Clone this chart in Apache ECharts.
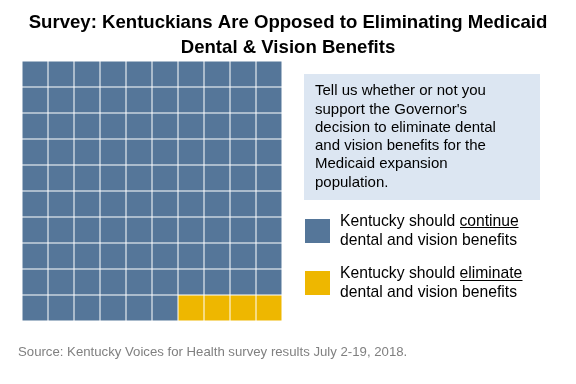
<!DOCTYPE html>
<html><head><meta charset="utf-8">
<script src="https://cdn.jsdelivr.net/npm/echarts@6/dist/echarts.min.js"></script>
<style>html,body{margin:0;padding:0;background:#fff}#c{width:576px;height:384px}</style>
</head><body><div id="c"></div>
<script>
const titleLines = ['Survey: Kentuckians Are Opposed to Eliminating Medicaid', 'Dental & Vision Benefits'];
const questionLines = ['Tell us whether or not you', "support the Governor's", 'decision to eliminate dental', 'and vision benefits for the', 'Medicaid expansion', 'population.'];
const seriesNames = ['continue', 'eliminate'];
const legendLead = 'Kentucky should ';
const legendTail = 'dental and vision benefits';
const cellCounts = [96, 4];
const colLabels = ['1','2','3','4','5','6','7','8','9','10'];
const rowLabels = ['1','2','3','4','5','6','7','8','9','10'];
const sourceText = 'Source: Kentucky Voices for Health survey results July 2-19, 2018.';
const colors = ['#557699', '#EEB700'];

// build waffle cells (row-major from top-left) from the counts
const cellData = [];
let idx = 0;
cellCounts.forEach((n, k) => {
  const arr = [];
  for (let j = 0; j < n; j++) {
    arr.push([colLabels[idx % colLabels.length], rowLabels[Math.floor(idx / colLabels.length)]]);
    idx++;
  }
  cellData.push(arr);
});

const chart = echarts.init(document.getElementById('c'), null, {renderer: 'canvas'});
function renderCell(params, api) {
  const c = api.coord([api.value(0), api.value(1)]);
  const s = api.size([1, 1]);
  return {
    type: 'rect',
    shape: {x: c[0] - s[0] / 2 + 0.5, y: c[1] - s[1] / 2 + 0.5, width: s[0] - 1, height: s[1] - 1},
    style: {fill: api.visual('color')}
  };
}
const LF = 'Liberation Sans, Arial';
const option = {
  animation: false,
  title: {
    text: titleLines.join('\n'),
    left: 'center', top: 6,
    textStyle: {fontFamily: LF, fontWeight: 'bold', fontSize: 18.6, lineHeight: 24.5, color: '#000'}
  },
  grid: {left: 22, top: 61, width: 260, height: 260},
  xAxis: {type: 'category', data: colLabels, show: false},
  yAxis: {type: 'category', data: rowLabels, inverse: true, show: false},
  legend: {
    orient: 'vertical', left: 305, top: 212, padding: 0,
    itemWidth: 25, itemHeight: 24, itemGap: 14,
    icon: 'rect',
    data: seriesNames,
    formatter: function (name) { return '{t|' + legendLead + '}{u|' + name + '}\n{t|' + legendTail + '}'; },
    textStyle: {
      fontFamily: LF, fontSize: 15.7, color: '#000', lineHeight: 19, padding: [0,0,0,5],
      rich: {t: {fontFamily: LF, fontSize: 15.7, lineHeight: 19, color: '#000'},
             u: {fontFamily: LF, fontSize: 15.7, lineHeight: 19, color: '#000'}}
    }
  },
  graphic: [
    {type: 'rect', left: 304, top: 74, shape: {width: 236, height: 126}, style: {fill: '#DCE6F2'}, z: -1},
    {type: 'text', left: 315, top: 82, style: {text: questionLines.join('\n'), font: '15px "Liberation Sans", Arial', lineHeight: 18.3, fill: '#000'}},
    {type: 'line', shape: {x1: 460, y1: 227.5, x2: 518.5, y2: 227.5}, style: {stroke: '#000', lineWidth: 1}},
    {type: 'line', shape: {x1: 460, y1: 280.5, x2: 522.5, y2: 280.5}, style: {stroke: '#000', lineWidth: 1}},
    {type: 'text', left: 18, top: 346, style: {text: sourceText, font: '13.2px "Liberation Sans", Arial', fill: '#808080'}}
  ],
  series: seriesNames.map((n, k) => ({
    name: n, type: 'custom', renderItem: renderCell,
    itemStyle: {color: colors[k]},
    encode: {x: 0, y: 1},
    data: cellData[k]
  }))
};
chart.setOption(option);
</script></body></html>
